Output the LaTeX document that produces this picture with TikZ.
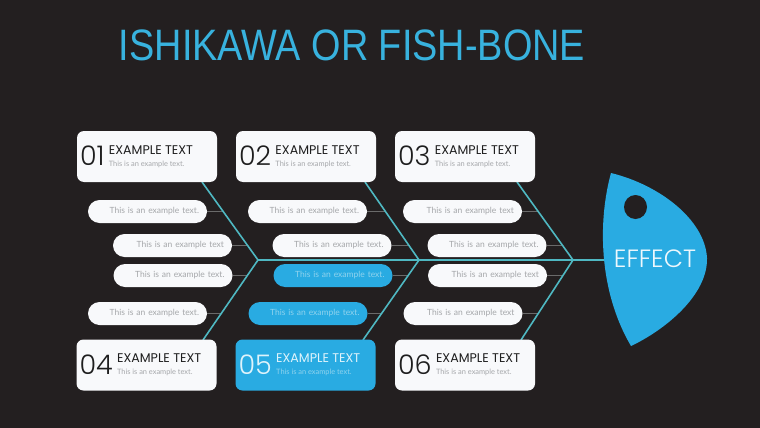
\documentclass[tikz,border=0pt]{standalone}
\usepackage{fontspec}
\setmainfont{Liberation Sans}
\newfontfamily\popfont{Poppins}
\newfontfamily\poplight{Poppins Light}
\newfontfamily\latofont{Lato}
\usetikzlibrary{calc}
\definecolor{bg}{HTML}{231F20}
\definecolor{fishblue}{HTML}{29ABE2}
\definecolor{bone}{HTML}{4FB8C2}
\definecolor{titleblue}{HTML}{38B2DE}
\definecolor{pilltext}{HTML}{A5A7AA}
\definecolor{bluetext}{HTML}{8FD3EE}
\definecolor{connc}{HTML}{6A6A6A}
\definecolor{paper}{HTML}{F8F9FB}
\definecolor{darktext}{HTML}{1E1E1E}
\tikzset{
  bigbox/.style={rounded corners=7pt, minimum width=140pt, minimum height=51pt, inner sep=0pt},
  pill/.style={rounded corners=11.5pt, fill=paper, minimum height=23pt, text width=103pt,
    inner xsep=8pt, inner ysep=0pt, align=right, text=pilltext,
    font=\latofont\fontsize{8.5}{9}\selectfont},
  bluepill/.style={pill, fill=fishblue, text=bluetext},
  bonel/.style={draw=bone, line width=1.6pt},
  connl/.style={draw=connc, line width=0.7pt},
  numtxt/.style={inner sep=0pt, font=\poplight\fontsize{27}{27}\selectfont},
  headtxt/.style={inner sep=0pt, font=\popfont\fontsize{12.6}{13}\selectfont},
  subtxt/.style={inner sep=0pt, font=\latofont\fontsize{7.4}{8}\selectfont}
}
% name, cx, cy, number, fill, main colour, sub colour
\newcommand\fishbox[7]{%
  \node[bigbox, fill=#5] (#1) at (#2,#3) {};
  \node[numtxt, text=#6, anchor=base west] (#1n) at ($(#1.west)+(3,9)$) {#4};
  \node[headtxt, text=#6, anchor=base west] (#1h) at ($(#1n.base east)+(4,-11.5)$) {EXAMPLE TEXT};
  \node[subtxt, text=#7, anchor=base west] (#1s) at ($(#1n.base east)+(4,0.8)$) {This is an example text.};
}
\begin{document}
\begin{tikzpicture}[x=1pt,y=-1pt]
\fill[bg] (0,0) rectangle (760,428);
\useasboundingbox (0,0) rectangle (760,428);

% title
\node[anchor=base, inner sep=0pt, text=titleblue, font=\fontsize{44}{44}\selectfont] (title) at (352,60.5) {\scalebox{0.86}[1]{ISHIKAWA OR FISH-BONE}};

% skeleton coordinates
\coordinate (ct1) at (202,182); \coordinate (cv1) at (258,260); \coordinate (cb1) at (203,340);
\coordinate (ct2) at (365,182); \coordinate (cv2) at (419,260); \coordinate (cb2) at (363,340);
\coordinate (ct3) at (517,182); \coordinate (cv3) at (573,260); \coordinate (cb3) at (521,340);
\coordinate (head) at (604,260);

% pill connector ends
\coordinate (e11) at (223.5,211.5); \coordinate (e12) at (247.6,245.5);
\coordinate (e13) at (247.3,275.5); \coordinate (e14) at (221.2,313.5);
\coordinate (e21) at (385.8,211.5); \coordinate (e22) at (408.9,245.5);
\coordinate (e23) at (408.2,275.5); \coordinate (e24) at (381.6,313.5);
\coordinate (e31) at (538.5,211.5); \coordinate (e32) at (562.6,245.5);
\coordinate (e33) at (563,275.5);   \coordinate (e34) at (538.2,313.5);

% pills
\node[pill] (p11) at (147.5,211.5) {This is an example text.};
\node[pill] (p12) at (172.5,245.5) {This is an example text};
\node[pill] (p13) at (173,275.5) {This is an example text.};
\node[pill] (p14) at (147.5,313.5) {This is an example text.};
\node[pill] (p21) at (307.5,211.5) {This is an example text.};
\node[pill] (p22) at (332,245.5) {This is an example text.};
\node[bluepill] (p23) at (333,275.5) {This is an example text.};
\node[bluepill] (p24) at (308,313.5) {This is an example text.};
\node[pill] (p31) at (462.5,211.5) {This is an example text};
\node[pill] (p32) at (487,245.5) {This is an example text.};
\node[pill] (p33) at (487.5,275.5) {This is an example text};
\node[pill] (p34) at (463,313.5) {This is an example text};

\foreach \c in {1,2,3}{\foreach \r in {1,2,3,4}{\draw[connl] (p\c\r.east) -- (e\c\r);}}

% bones
\draw[bonel] (cv1) -- (head);
\draw[bonel] (ct1) -- (cv1) -- (cb1);
\draw[bonel] (ct2) -- (cv2) -- (cb2);
\draw[bonel] (ct3) -- (cv3) -- (cb3);

% boxes
\fishbox{bx1}{147}{156.5}{01}{paper}{darktext}{pilltext}
\fishbox{bx2}{306}{156.5}{02}{paper}{darktext}{pilltext}
\fishbox{bx3}{465}{156.5}{03}{paper}{darktext}{pilltext}
\fishbox{bx4}{146.5}{365}{04}{paper}{darktext}{pilltext}
\fishbox{bx5}{305.5}{365}{05}{fishblue}{white!85!fishblue}{bluetext}
\fishbox{bx6}{465}{365}{06}{paper}{darktext}{pilltext}

% fish head
\fill[fishblue] (611,173) .. controls (660,185) and (705,220) .. (707,258)
  .. controls (708,295) and (665,330) .. (631,346)
  .. controls (598,290) and (598,220) .. (611,173) -- cycle;
\fill[bg] (635.5,207) ellipse [x radius=11.5, y radius=12];
\node[anchor=base, inner sep=0pt, text=white!92!fishblue, font=\poplight\fontsize{25}{25}\selectfont] (effect) at (655,267.5) {EFFECT};
\end{tikzpicture}
\end{document}
